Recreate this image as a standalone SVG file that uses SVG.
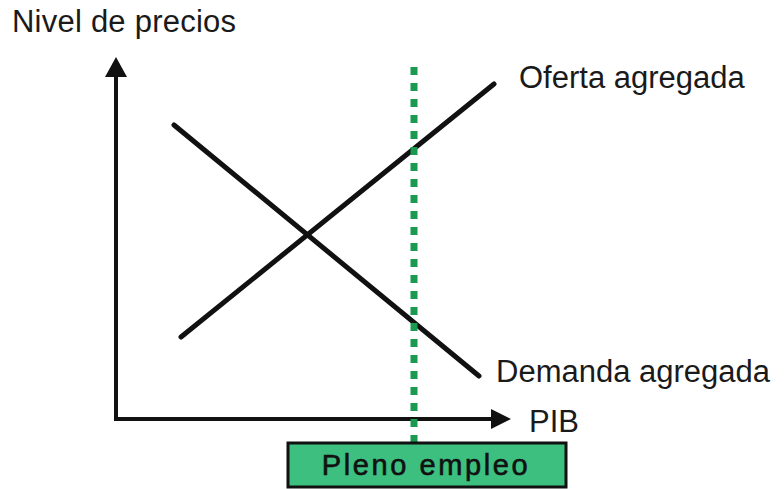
<svg xmlns="http://www.w3.org/2000/svg" width="784" height="489" viewBox="0 0 784 489">
<style>
.lbl{font-family:"Liberation Sans",Arial,sans-serif;font-size:31px;fill:#1a1a1a}
.curve{stroke:#111;stroke-width:5;stroke-linecap:round;fill:none}
.axis{stroke:#111;stroke-width:4;fill:none}
</style>
<rect width="784" height="489" fill="#fff"/>
<g id="connectors">
<line class="axis" x1="116" y1="419" x2="116" y2="74"/>
<polygon points="116,57 105,77 127,77" fill="#111"/>
<line class="axis" x1="114" y1="419" x2="493" y2="419"/>
<polygon points="511,419 491,409 491,429" fill="#111"/>
</g>
<g id="oferta">
<line class="curve" x1="181" y1="337" x2="494" y2="84"/>
<text class="lbl" x="519" y="88">Oferta agregada</text>
</g>
<g id="demanda">
<line class="curve" x1="174" y1="125" x2="479" y2="376"/>
<text class="lbl" x="496" y="382">Demanda agregada</text>
</g>
<g id="eje-y"><text class="lbl" x="12" y="32" textLength="224">Nivel de precios</text></g>
<g id="eje-x"><text class="lbl" x="529" y="432">PIB</text></g>
<g id="pleno-empleo-linea">
<line x1="414" y1="67" x2="414" y2="442" stroke="#1a9a50" stroke-width="7" stroke-dasharray="8 8"/>
</g>
<g id="pleno-empleo">
<rect x="288" y="443" width="278" height="44" fill="#3cbf7f" stroke="#111" stroke-width="3"/>
<text x="426" y="475" text-anchor="middle" font-family="'Liberation Sans',Arial,sans-serif" font-size="29" letter-spacing="2.6" fill="#111" stroke="#111" stroke-width="0.6">Pleno empleo</text>
</g>
</svg>
